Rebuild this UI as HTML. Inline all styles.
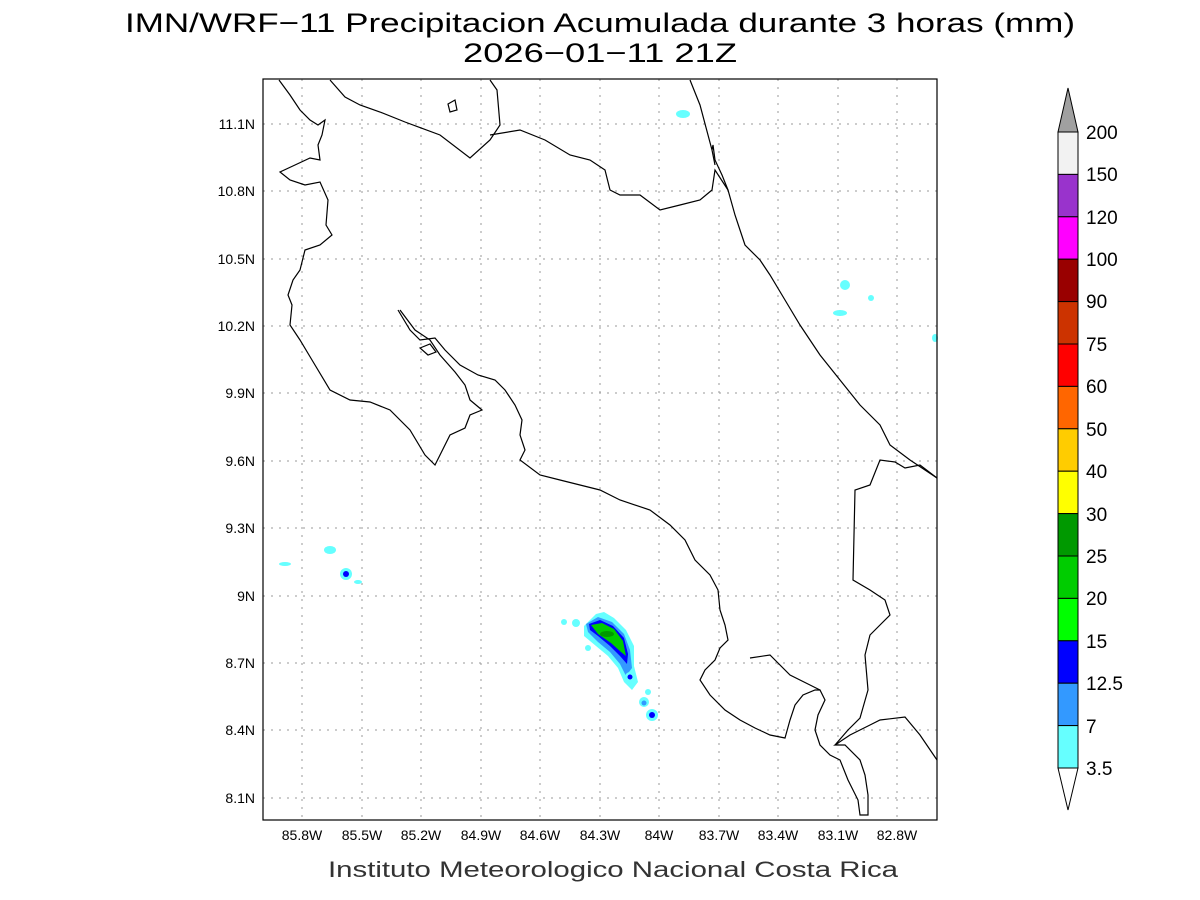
<!DOCTYPE html><html><head><style>body{margin:0;background:#fff}svg{display:block}text{font-family:"Liberation Sans",sans-serif}</style></head><body>
<svg width="1200" height="900" viewBox="0 0 1200 900">
<rect width="1200" height="900" fill="#fff"/>
<text x="125" y="32" font-size="27" textLength="950" lengthAdjust="spacingAndGlyphs">IMN/WRF−11 Precipitacion Acumulada durante 3 horas (mm)</text>
<text x="463" y="62" font-size="27" textLength="274" lengthAdjust="spacingAndGlyphs">2026−01−11 21Z</text>
<g stroke="#999" stroke-dasharray="2,6" stroke-width="1">
<line x1="302" y1="79" x2="302" y2="820"/><line x1="362" y1="79" x2="362" y2="820"/><line x1="421" y1="79" x2="421" y2="820"/><line x1="481" y1="79" x2="481" y2="820"/><line x1="540" y1="79" x2="540" y2="820"/><line x1="600" y1="79" x2="600" y2="820"/><line x1="659" y1="79" x2="659" y2="820"/><line x1="719" y1="79" x2="719" y2="820"/><line x1="778" y1="79" x2="778" y2="820"/><line x1="838" y1="79" x2="838" y2="820"/><line x1="897" y1="79" x2="897" y2="820"/>
<line x1="263" y1="124" x2="937" y2="124"/><line x1="263" y1="191" x2="937" y2="191"/><line x1="263" y1="259" x2="937" y2="259"/><line x1="263" y1="326" x2="937" y2="326"/><line x1="263" y1="393" x2="937" y2="393"/><line x1="263" y1="461" x2="937" y2="461"/><line x1="263" y1="528" x2="937" y2="528"/><line x1="263" y1="596" x2="937" y2="596"/><line x1="263" y1="663" x2="937" y2="663"/><line x1="263" y1="730" x2="937" y2="730"/><line x1="263" y1="798" x2="937" y2="798"/>
</g>
<g>
<path d="M584,626 L596,614 L604,612 L614,618 L626,630 L634,646 L634,666 L638,682 L632,690 L624,682 L618,668 L608,656 L596,646 L584,636Z" fill="#66ffff"/>
<path d="M586,624 L598,617 L612,622 L624,634 L630,650 L632,668 L626,676 L620,664 L610,652 L598,642 L588,632Z" fill="#3399ff"/>
<path d="M589,624 L600,620 L613,626 L624,638 L628,654 L627,664 L620,656 L610,646 L598,636 L590,630Z" fill="#0000ff"/>
<path d="M591,625 L602,623 L614,629 L623,641 L626,656 L621,652 L611,643 L598,634Z" fill="#00cc00"/>
<ellipse cx="607" cy="634" rx="7" ry="3" fill="#009900"/>
<circle cx="630" cy="677" r="5" fill="#66ffff"/><circle cx="630" cy="677" r="2.5" fill="#0000ff"/>
<circle cx="644" cy="702" r="5" fill="#66ffff"/><circle cx="644" cy="703" r="2.5" fill="#3399ff"/>
<circle cx="652" cy="715" r="6" fill="#66ffff"/><circle cx="652" cy="715" r="3" fill="#0000ff"/>
<circle cx="648" cy="692" r="3" fill="#66ffff"/>
<circle cx="576" cy="623" r="4" fill="#66ffff"/><circle cx="564" cy="622" r="3" fill="#66ffff"/>
<circle cx="588" cy="648" r="3" fill="#66ffff"/>
<circle cx="346" cy="574" r="6" fill="#66ffff"/><circle cx="346" cy="574" r="3" fill="#0000ff"/>
<ellipse cx="330" cy="550" rx="6" ry="4" fill="#66ffff"/><ellipse cx="358" cy="582" rx="4" ry="2" fill="#66ffff"/>
<ellipse cx="285" cy="564" rx="6" ry="2" fill="#66ffff"/>
<ellipse cx="683" cy="114" rx="7" ry="4" fill="#66ffff"/>
<ellipse cx="845" cy="285" rx="5" ry="5" fill="#66ffff"/><ellipse cx="840" cy="313" rx="7" ry="3" fill="#66ffff"/><ellipse cx="871" cy="298" rx="3" ry="3" fill="#66ffff"/><ellipse cx="935" cy="338" rx="3" ry="4" fill="#66ffff"/>
</g>
<g fill="none" stroke="#000" stroke-width="1.2">
<polyline points="279,80 290,95 300,110 310,120 318,125 325,120 322,135 318,145 320,160 310,158 295,165 280,172 290,180 305,185 320,182 328,200 326,225 332,235 320,245 305,250 300,270 293,280 288,295 292,305 290,325 300,340 312,360 330,390 350,400 370,402 390,410 410,430 425,455 435,465 440,455 450,435 465,428 470,415 482,410 470,400 465,385 455,372 440,355 430,340 415,330 400,310"/>
<polyline points="398,310 410,330 420,340 435,338 445,350 460,365 478,375 495,380 505,390 515,405 522,420 520,435 525,450 520,460 540,475 560,480 580,485 600,490 620,500 650,510 670,525 685,540 695,560 710,575 718,590 720,610 725,625 728,640 720,648 715,660 705,670 700,680 710,695 725,710 740,720 755,728 770,735 785,738 790,720 795,705 803,695 815,690 820,690 825,700 818,715 815,730 820,745 830,755 840,760 848,780 858,800 860,815 868,815 868,795 865,775 860,760 845,745 835,745 850,735 870,725 880,720 905,717 920,735 937,760"/>
<polyline points="750,658 770,655 790,675 810,685 820,690"/>
<polyline points="937,478 925,470 910,460 890,445 880,425 860,405 840,380 820,355 800,325 785,300 770,275 760,260 745,245 740,230 735,215 728,190 722,175 715,160 713,145 712,150"/>
<polyline points="690,80 700,105 712,150 715,165"/>
<polyline points="330,80 345,97 360,105 380,112 405,122 440,135 470,158 490,140 500,125 497,90 490,80"/>
<polyline points="490,135 520,130 545,140 570,155 590,160 605,170 610,190 620,195 640,195 660,210 680,205 700,200 712,190 715,170 728,190"/>
<polyline points="937,478 920,465 905,468 895,462 880,460 870,485 855,490 853,580 870,590 885,600 890,615 880,625 870,635 865,655 868,690 860,718 848,730 835,745"/>
<polygon points="420,348 430,344 436,352 428,355"/>
<polygon points="448,104 455,100 457,110 450,112"/>
</g>
<rect x="263" y="79" width="674" height="741" fill="none" stroke="#000" stroke-width="1.2"/>
<g font-size="14" text-anchor="end">
<text x="255" y="129">11.1N</text><text x="255" y="196">10.8N</text><text x="255" y="264">10.5N</text><text x="255" y="331">10.2N</text><text x="255" y="398">9.9N</text><text x="255" y="466">9.6N</text><text x="255" y="533">9.3N</text><text x="255" y="601">9N</text><text x="255" y="668">8.7N</text><text x="255" y="735">8.4N</text><text x="255" y="803">8.1N</text>
</g>
<g font-size="14" text-anchor="middle">
<text x="302" y="840">85.8W</text><text x="362" y="840">85.5W</text><text x="421" y="840">85.2W</text><text x="481" y="840">84.9W</text><text x="540" y="840">84.6W</text><text x="600" y="840">84.3W</text><text x="659" y="840">84W</text><text x="719" y="840">83.7W</text><text x="778" y="840">83.4W</text><text x="838" y="840">83.1W</text><text x="897" y="840">82.8W</text>
</g>
<text x="328" y="877" font-size="22" textLength="570" lengthAdjust="spacingAndGlyphs" fill="#333">Instituto Meteorologico Nacional Costa Rica</text>
<g stroke="#000" stroke-width="1">
<polygon points="1058,132 1068,88 1078,132" fill="#a0a0a0"/>
<rect x="1058" y="132" width="20" height="42.4" fill="#f2f2f2"/>
<rect x="1058" y="174.4" width="20" height="42.4" fill="#9933cc"/>
<rect x="1058" y="216.8" width="20" height="42.4" fill="#ff00ff"/>
<rect x="1058" y="259.2" width="20" height="42.4" fill="#990000"/>
<rect x="1058" y="301.6" width="20" height="42.4" fill="#cc3300"/>
<rect x="1058" y="344" width="20" height="42.4" fill="#ff0000"/>
<rect x="1058" y="386.4" width="20" height="42.4" fill="#ff6600"/>
<rect x="1058" y="428.8" width="20" height="42.4" fill="#ffcc00"/>
<rect x="1058" y="471.2" width="20" height="42.4" fill="#ffff00"/>
<rect x="1058" y="513.6" width="20" height="42.4" fill="#009900"/>
<rect x="1058" y="556" width="20" height="42.4" fill="#00cc00"/>
<rect x="1058" y="598.4" width="20" height="42.4" fill="#00ff00"/>
<rect x="1058" y="640.8" width="20" height="42.4" fill="#0000ff"/>
<rect x="1058" y="683.2" width="20" height="42.4" fill="#3399ff"/>
<rect x="1058" y="725.6" width="20" height="42.4" fill="#66ffff"/>
<polygon points="1058,768 1068,810 1078,768" fill="#fff"/>
</g>
<g font-size="19">
<text x="1086" y="139">200</text><text x="1086" y="181">150</text><text x="1086" y="224">120</text><text x="1086" y="266">100</text><text x="1086" y="308">90</text><text x="1086" y="351">75</text><text x="1086" y="393">60</text><text x="1086" y="436">50</text><text x="1086" y="478">40</text><text x="1086" y="521">30</text><text x="1086" y="563">25</text><text x="1086" y="605">20</text><text x="1086" y="648">15</text><text x="1086" y="690">12.5</text><text x="1086" y="733">7</text><text x="1086" y="775">3.5</text>
</g>
</svg>
</body></html>
